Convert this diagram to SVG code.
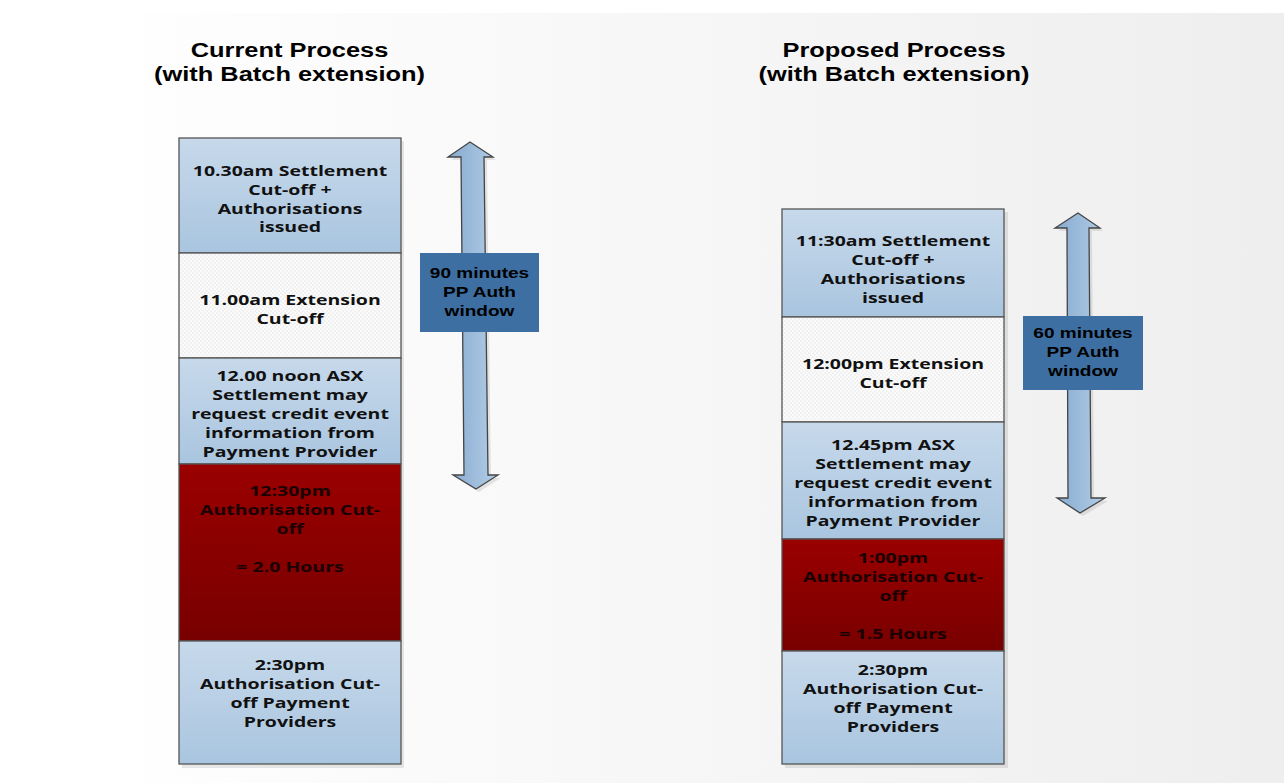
<svg xmlns="http://www.w3.org/2000/svg" width="1284" height="783" viewBox="0 0 1284 783">
<defs>
<linearGradient id="bg" x1="0" y1="0" x2="1" y2="0"><stop offset="0" stop-color="#fefefe"/><stop offset="1" stop-color="#eeeeee"/></linearGradient>
<linearGradient id="blue" x1="0" y1="0" x2="0" y2="1"><stop offset="0" stop-color="#c7d9eb"/><stop offset="1" stop-color="#a9c5df"/></linearGradient>
<linearGradient id="red" x1="0" y1="0" x2="0" y2="1"><stop offset="0" stop-color="#9a0000"/><stop offset="1" stop-color="#780000"/></linearGradient>
<linearGradient id="arr" x1="0" y1="0" x2="1" y2="0"><stop offset="0" stop-color="#86aad0"/><stop offset="1" stop-color="#b3cde6"/></linearGradient>
<pattern id="chk" width="4" height="4" patternUnits="userSpaceOnUse"><rect width="4" height="4" fill="#fbfbfb"/><rect width="2" height="2" fill="#f1f1f1"/><rect x="2" y="2" width="2" height="2" fill="#f1f1f1"/></pattern>
<style>
.box{stroke:#555;stroke-width:1.3}
.b{fill:url(#blue)}.r{fill:url(#red)}.p{fill:url(#chk)}
.t{font-family:"Open Sans","DejaVu Sans",sans-serif;font-weight:bold;font-size:15px;text-anchor:middle;fill:#111}
.rt{fill:#1a0000}
.h{font-family:"Liberation Sans",Arial,sans-serif;font-weight:bold;font-size:20px;text-anchor:middle;fill:#000}
.l{font-family:"Liberation Sans",Arial,sans-serif;font-weight:bold;font-size:15px;text-anchor:middle;fill:#000}
.arrow{fill:url(#arr);stroke:#444;stroke-width:1.3}
.lab{fill:#3e6fa3}
.sh{fill:#000;opacity:0.09}
</style>
</defs>
<rect width="1284" height="783" fill="#ffffff"/>
<rect x="143" y="13" width="1141" height="770" fill="url(#bg)"/>

<g id="titles">
<g transform="translate(289.5 0) scale(1.27 1)"><text class="h" x="0" y="57">Current Process</text><text class="h" x="0" y="81">(with Batch extension)</text></g>
<g transform="translate(894 0) scale(1.27 1)"><text class="h" x="0" y="57">Proposed Process</text><text class="h" x="0" y="81">(with Batch extension)</text></g>
</g>

<rect class="sh" x="182" y="141" width="222" height="627"/>
<rect class="sh" x="785" y="212" width="223" height="556"/>

<g id="c1"><rect class="box b" x="179" y="138" width="222" height="115"/>
<g transform="translate(290 0) scale(1.3 1)"><text class="t" x="0" y="176.5">10.30am Settlement</text><text class="t" x="0" y="195.5">Cut-off +</text><text class="t" x="0" y="214">Authorisations</text><text class="t" x="0" y="232.5">issued</text></g></g>
<g id="c2"><rect class="box p" x="179" y="253" width="222" height="105"/>
<g transform="translate(290 0) scale(1.3 1)"><text class="t" x="0" y="305">11.00am Extension</text><text class="t" x="0" y="324">Cut-off</text></g></g>
<g id="c3"><rect class="box b" x="179" y="358" width="222" height="106"/>
<g transform="translate(290 0) scale(1.3 1)"><text class="t" x="0" y="381.5">12.00 noon ASX</text><text class="t" x="0" y="400.5">Settlement may</text><text class="t" x="0" y="419.5">request credit event</text><text class="t" x="0" y="438.5">information from</text><text class="t" x="0" y="457.5">Payment Provider</text></g></g>
<g id="c4"><rect class="box r" x="179" y="464" width="222" height="177"/>
<g transform="translate(290 0) scale(1.3 1)"><text class="t rt" x="0" y="496.5">12:30pm</text><text class="t rt" x="0" y="515.5">Authorisation Cut-</text><text class="t rt" x="0" y="534.5">off</text><text class="t rt" x="0" y="572.5">= 2.0 Hours</text></g></g>
<g id="c5"><rect class="box b" x="179" y="641" width="222" height="123"/>
<g transform="translate(290 0) scale(1.3 1)"><text class="t" x="0" y="670.5">2:30pm</text><text class="t" x="0" y="689.5">Authorisation Cut-</text><text class="t" x="0" y="708.5">off Payment</text><text class="t" x="0" y="727.5">Providers</text></g></g>

<g id="p1"><rect class="box b" x="782" y="209" width="222" height="108"/>
<g transform="translate(893 0) scale(1.3 1)"><text class="t" x="0" y="246.5">11:30am Settlement</text><text class="t" x="0" y="265.5">Cut-off +</text><text class="t" x="0" y="284.5">Authorisations</text><text class="t" x="0" y="303.5">issued</text></g></g>
<g id="p2"><rect class="box p" x="782" y="317" width="222" height="105"/>
<g transform="translate(893 0) scale(1.3 1)"><text class="t" x="0" y="369">12:00pm Extension</text><text class="t" x="0" y="388">Cut-off</text></g></g>
<g id="p3"><rect class="box b" x="782" y="422" width="222" height="117"/>
<g transform="translate(893 0) scale(1.3 1)"><text class="t" x="0" y="450.5">12.45pm ASX</text><text class="t" x="0" y="469.5">Settlement may</text><text class="t" x="0" y="488.5">request credit event</text><text class="t" x="0" y="507.5">information from</text><text class="t" x="0" y="526.5">Payment Provider</text></g></g>
<g id="p4"><rect class="box r" x="782" y="539" width="222" height="112"/>
<g transform="translate(893 0) scale(1.3 1)"><text class="t rt" x="0" y="563.5">1:00pm</text><text class="t rt" x="0" y="582.5">Authorisation Cut-</text><text class="t rt" x="0" y="601.5">off</text><text class="t rt" x="0" y="639.5">= 1.5 Hours</text></g></g>
<g id="p5"><rect class="box b" x="782" y="651" width="222" height="113"/>
<g transform="translate(893 0) scale(1.3 1)"><text class="t" x="0" y="675.5">2:30pm</text><text class="t" x="0" y="694.5">Authorisation Cut-</text><text class="t" x="0" y="713.5">off Payment</text><text class="t" x="0" y="732.5">Providers</text></g></g>

<g id="connectors">
<polygon class="sh" points="473,145 496,160 487,160 491,478 501,478 479,492 456,478 467,478 464,160 451,160"/>
<polygon class="arrow" points="470,142 493,157 484,157 488,475 498,475 476,489 453,475 464,475 461,157 448,157"/>
<polygon class="sh" points="1081,216 1103,231 1092,231 1094,501 1108,501 1083,516 1060,501 1071,501 1070,231 1058,231"/>
<polygon class="arrow" points="1078,213 1100,228 1089,228 1091,498 1105,498 1080,513 1057,498 1068,498 1067,228 1055,228"/>
</g>

<g id="label90"><rect class="lab" x="420" y="253" width="119" height="79"/>
<g transform="translate(479.5 0) scale(1.27 1)"><text class="l" x="0" y="278.5">90 minutes</text><text class="l" x="0" y="297">PP Auth</text><text class="l" x="0" y="316">window</text></g></g>
<g id="label60"><rect class="lab" x="1023" y="316" width="120" height="74"/>
<g transform="translate(1083 0) scale(1.27 1)"><text class="l" x="0" y="338.5">60 minutes</text><text class="l" x="0" y="357.5">PP Auth</text><text class="l" x="0" y="376.5">window</text></g></g>
</svg>
